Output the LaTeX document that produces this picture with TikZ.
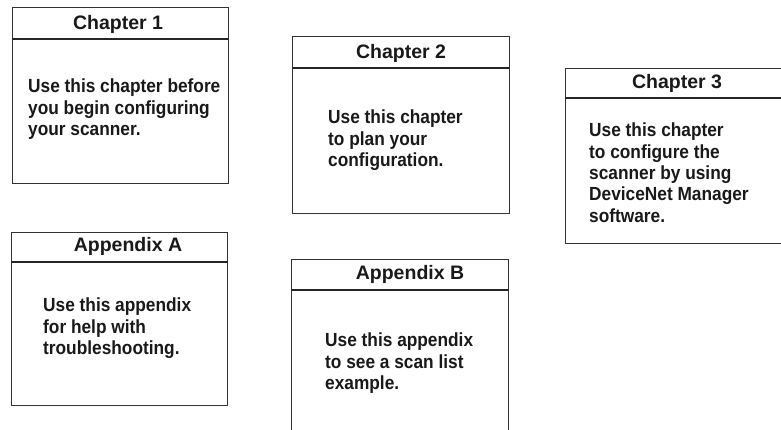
\documentclass[tikz,border=0pt]{standalone}
\usepackage{fontspec}
\setmainfont{Liberation Sans}
\newfontfamily\narrowsans[FakeStretch=0.91]{Liberation Sans}
\usetikzlibrary{positioning}

\begin{document}
\begin{tikzpicture}[x=1pt,y=-1pt,
  box/.style={draw=black!80,line width=0.8pt,anchor=north west,inner sep=0pt},
  heading/.style={font=\fontsize{19.5}{22}\selectfont\bfseries,text=black!90,inner sep=0pt},
  blurb/.style={font=\narrowsans\fontsize{19}{21.3}\selectfont\bfseries,text=black!90,align=left,anchor=north west,inner sep=0pt},
  rule/.style={line width=1.8pt,draw=black!85}]

	\useasboundingbox (0,0) rectangle (781,429);

	% chapter boxes
	\node[box,minimum width=216pt,minimum height=176pt] (ch1) at (12,7) {};
	\node[heading] (ch1t) at (118,24) {Chapter 1};
	\draw[rule] ([yshift=-32pt]ch1.north west) -- ([yshift=-32pt]ch1.north east);
	\node[blurb] (ch1b) at (28,79) {Use this chapter before\\you begin configuring\\your scanner.};

	\node[box,minimum width=217pt,minimum height=177pt] (ch2) at (292,36) {};
	\node[heading] (ch2t) at (401,53) {Chapter 2};
	\draw[rule] ([yshift=-32pt]ch2.north west) -- ([yshift=-32pt]ch2.north east);
	\node[blurb] (ch2b) at (328,110) {Use this chapter\\to plan your\\configuration.};

	\node[box,minimum width=240pt,minimum height=175pt] (ch3) at (565,68) {};
	\node[heading] (ch3t) at (677,83) {Chapter 3};
	\draw[rule] ([yshift=-30pt]ch3.north west) -- ([yshift=-30pt]ch3.north east);
	\node[blurb] (ch3b) at (589,123) {Use this chapter\\to configure the\\scanner by using\\DeviceNet Manager\\software.};

	% appendix boxes
	\node[box,minimum width=216pt,minimum height=173pt] (appa) at (11,232) {};
	\node[heading] (appat) at (128,246) {Appendix A};
	\draw[rule] ([yshift=-30pt]appa.north west) -- ([yshift=-30pt]appa.north east);
	\node[blurb] (appab) at (43,298) {Use this appendix\\for help with\\troubleshooting.};

	\node[box,minimum width=217pt,minimum height=190pt] (appb) at (291,259) {};
	\node[heading] (appbt) at (410,274) {Appendix B};
	\draw[rule] ([yshift=-31pt]appb.north west) -- ([yshift=-31pt]appb.north east);
	\node[blurb] (appbb) at (325,333) {Use this appendix\\to see a scan list\\example.};

\end{tikzpicture}
\end{document}
